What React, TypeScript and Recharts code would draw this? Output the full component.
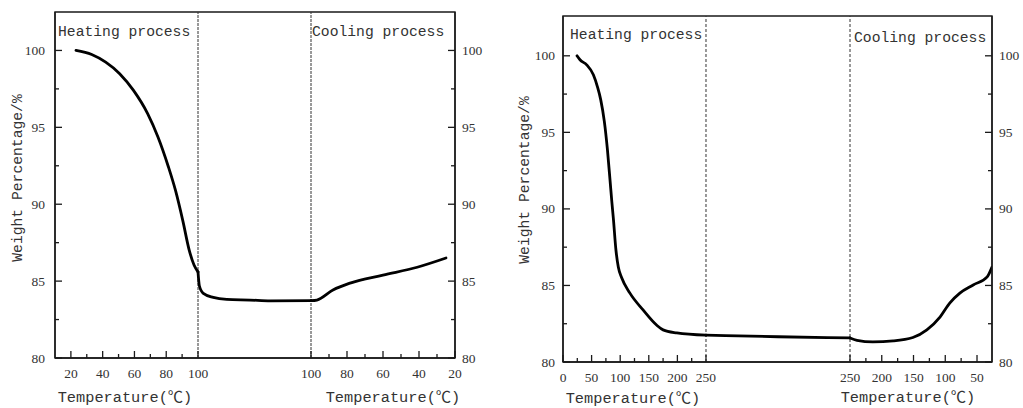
import { LineChart, Line, XAxis, YAxis, ReferenceLine, ReferenceArea } from 'recharts'

// left panel: heating to 100 ℃, hold, cooling back down
const leftHeatTemp = [23.2, 33.1, 41.9, 50.7, 59.4, 68.3, 74.8, 81.4, 85.8, 90.5, 94.5, 97.5, 100]
const leftHeatWeight = [100, 99.74, 99.24, 98.49, 97.4, 95.89, 94.37, 92.42, 90.91, 88.9, 87.0, 86.05, 85.6]
const leftHoldStep = [0, 1.2, 4.7, 13.5, 25.4, 46, 64, 100]
const leftHoldWeight = [85.6, 84.7, 84.2, 83.94, 83.81, 83.77, 83.72, 83.73]
const leftCoolTemp = [100, 96.7, 87.8, 78.3, 60, 41, 25]
const leftCoolWeight = [83.73, 83.77, 84.42, 84.87, 85.39, 85.9, 86.5]

// right panel: heating to 250 ℃
const rightHeatTemp = [24.5, 29.7, 41.4, 53.1, 60.1, 66, 72.3, 77.6, 82.3, 85.3, 88, 92.6, 96.7, 102.6, 117, 140, 164, 175, 199, 250]
const rightHeatWeight = [100, 99.74, 99.41, 98.76, 97.99, 97.12, 95.7, 93.9, 91.85, 90.5, 89.4, 87.3, 86.2, 85.5, 84.5, 83.4, 82.4, 82.1, 81.9, 81.75]
const rightHoldStep = [0, 50, 100]
const rightHoldWeight = [81.75, 81.65, 81.57]
const rightCoolTemp = [250, 239, 214, 182, 151, 129, 108, 93, 77, 56, 34, 26.4]
const rightCoolWeight = [81.57, 81.42, 81.32, 81.38, 81.6, 82.1, 82.95, 83.85, 84.5, 85.03, 85.56, 86.2]

// tick labels
const leftHeatTicks = [20, 40, 60, 80, 100]
const leftHeatMinor = [30, 50, 70, 90]
const leftCoolTicks = [100, 80, 60, 40, 20]
const leftCoolMinor = [90, 70, 50, 30]
const rightHeatTicks = [0, 50, 100, 150, 200, 250]
const rightHeatMinor = [25, 75, 125, 175, 225]
const rightCoolTicks = [250, 200, 150, 100, 50]
const rightCoolMinor = [225, 175, 125, 75]
const yTicks = [80, 82.5, 85, 87.5, 90, 92.5, 95, 97.5, 100]

// broken x axis: heating part | isothermal hold | cooling part (reversed)
type AxisMap = { heat: number[]; cool: number[]; b1: number; b2: number }
const leftAxis: AxisMap = { heat: [10, 100], cool: [100, 20], b1: 0.3575, b2: 0.64 }
const rightAxis: AxisMap = { heat: [0, 250], cool: [250, 26.4], b1: 0.3333, b2: 0.669 }

const heatPos = (t: number, a: AxisMap) => ((t - a.heat[0]) / (a.heat[1] - a.heat[0])) * a.b1
const holdPos = (s: number, a: AxisMap) => a.b1 + (s / 100) * (a.b2 - a.b1)
const coolPos = (t: number, a: AxisMap) => a.b2 + ((a.cool[0] - t) / (a.cool[0] - a.cool[1])) * (1 - a.b2)

type TickDef = { pos: number; label: string | null }

function buildTicks(a: AxisMap, heat: number[], heatMinor: number[], cool: number[], coolMinor: number[]): TickDef[] {
  return [
    ...heat.map((t) => ({ pos: heatPos(t, a), label: String(t) })),
    ...heatMinor.map((t) => ({ pos: heatPos(t, a), label: null })),
    ...cool.map((t) => ({ pos: coolPos(t, a), label: String(t) })),
    ...coolMinor.map((t) => ({ pos: coolPos(t, a), label: null })),
  ].sort((p, q) => p.pos - q.pos)
}

const mono = '"Liberation Mono", "Noto Sans CJK SC", monospace'
const serif = '"Liberation Serif", serif'
const ink = '#1a1a1a'

type PanelProps = {
  x: number
  width: number
  top: number
  leftW: number
  rightW: number
  bottomH: number
  yMax: number
  axis: AxisMap
  heat: { pos: number; w: number }[]
  hold: { pos: number; w: number }[]
  cool: { pos: number; w: number }[]
  ticks: TickDef[]
  dash: string
  yLabel: number[]
  heatText: number[]
  coolText: number[]
  heatTitle: number[]
  coolTitle: number[]
  leftGap: number
}

function Panel(p: PanelProps) {
  const xTick = (props: any) => {
    const { x, y, payload } = props
    const d = p.ticks.find((t) => Math.abs(t.pos - payload.value) < 1e-6)
    if (!d) return null
    return (
      <g>
        <line x1={x} y1={y} x2={x} y2={y - (d.label ? 7 : 4)} stroke={ink} strokeWidth={1.3} />
        {d.label && (
          <text x={x} y={y + 20} textAnchor="middle" fontFamily={serif} fontSize={13.5} fill="#333">
            {d.label}
          </text>
        )}
      </g>
    )
  }
  const yTick = (side: 'l' | 'r') => (props: any) => {
    const { x, y, payload } = props
    const major = payload.value % 5 === 0
    const dir = side === 'l' ? 1 : -1
    return (
      <g>
        <line x1={x} y1={y} x2={x + dir * (major ? 7 : 4)} y2={y} stroke={ink} strokeWidth={1.3} />
        {major && (
          <text
            x={side === 'l' ? x - p.leftGap : x + 7}
            y={y}
            textAnchor={side === 'l' ? 'end' : 'start'}
            dominantBaseline="central"
            fontFamily={serif}
            fontSize={13.5}
            fill="#333"
          >
            {payload.value}
          </text>
        )}
      </g>
    )
  }
  const textStyle = { fontFamily: mono, fontSize: 14.7, fill: '#333' }
  const titleStyle = { fontFamily: mono, fontSize: 15.3, fill: '#333' }

  return (
    <div style={{ position: 'absolute', left: p.x, top: 0 }}>
      <LineChart width={p.width} height={408} margin={{ top: p.top, right: 0, bottom: 0, left: 0 }}>
        <XAxis
          dataKey="pos"
          type="number"
          domain={[0, 1]}
          ticks={p.ticks.map((t) => t.pos)}
          interval={0}
          height={p.bottomH}
          tickSize={0}
          tickMargin={0}
          tickLine={false}
          axisLine={{ stroke: ink, strokeWidth: 1.4 }}
          tick={xTick}
          allowDataOverflow
        />
        <YAxis
          yAxisId="l"
          type="number"
          domain={[80, p.yMax]}
          ticks={yTicks}
          interval={0}
          width={p.leftW}
          tickSize={0}
          tickMargin={0}
          tickLine={false}
          axisLine={{ stroke: ink, strokeWidth: 1.4 }}
          tick={yTick('l')}
          allowDataOverflow
        />
        <YAxis
          yAxisId="r"
          orientation="right"
          type="number"
          domain={[80, p.yMax]}
          ticks={yTicks}
          interval={0}
          width={p.rightW}
          tickSize={0}
          tickMargin={0}
          tickLine={false}
          axisLine={{ stroke: ink, strokeWidth: 1.4 }}
          tick={yTick('r')}
          allowDataOverflow
        />
        <ReferenceArea yAxisId="l" x1={0} x2={1} y1={80} y2={p.yMax} fill="none" stroke={ink} strokeWidth={1.4} />
        <ReferenceLine yAxisId="l" x={p.axis.b1} stroke="#333" strokeWidth={1} strokeDasharray={p.dash} />
        <ReferenceLine yAxisId="l" x={p.axis.b2} stroke="#333" strokeWidth={1} strokeDasharray={p.dash} />
        {[p.heat, p.hold, p.cool].map((seg, i) => (
          <Line
            key={i}
            yAxisId="l"
            data={seg}
            dataKey="w"
            type="monotone"
            stroke="#000"
            strokeWidth={2.8}
            strokeLinecap="round"
            strokeLinejoin="round"
            dot={false}
            activeDot={false}
            isAnimationActive={false}
          />
        ))}
        <text x={p.heatText[0]} y={p.heatText[1]} {...textStyle}>Heating process</text>
        <text x={p.coolText[0]} y={p.coolText[1]} {...textStyle}>Cooling process</text>
        <text x={p.heatTitle[0]} y={p.heatTitle[1]} textAnchor="middle" {...titleStyle}>Temperature(℃)</text>
        <text x={p.coolTitle[0]} y={p.coolTitle[1]} textAnchor="middle" {...titleStyle}>Temperature(℃)</text>
        <text
          x={p.yLabel[0]}
          y={p.yLabel[1]}
          textAnchor="middle"
          dominantBaseline="central"
          transform={`rotate(-90 ${p.yLabel[0]} ${p.yLabel[1]})`}
          {...textStyle}
        >
          Weight Percentage/%
        </text>
      </LineChart>
    </div>
  )
}

function series(temps: number[], weights: number[], map: (v: number) => number) {
  return temps.map((t, i) => ({ pos: map(t), w: weights[i] }))
}

export default function App() {
  const la = leftAxis
  const ra = rightAxis
  return (
    <div style={{ position: 'absolute', left: 0, top: 0, width: 1023, height: 408, background: '#fff' }}>
      <Panel
        x={0}
        width={500}
        top={12}
        leftW={55}
        rightW={45}
        bottomH={50}
        yMax={102.5}
        axis={la}
        heat={series(leftHeatTemp, leftHeatWeight, (t) => heatPos(t, la))}
        hold={series(leftHoldStep, leftHoldWeight, (s) => holdPos(s, la))}
        cool={series(leftCoolTemp, leftCoolWeight, (t) => coolPos(t, la))}
        ticks={buildTicks(la, leftHeatTicks, leftHeatMinor, leftCoolTicks, leftCoolMinor)}
        dash="3 1"
        yLabel={[18, 178]}
        heatText={[58, 36]}
        coolText={[312, 36]}
        heatTitle={[125, 402]}
        coolTitle={[393, 402]}
        leftGap={10}
      />
      <Panel
        x={508}
        width={515}
        top={16}
        leftW={55}
        rightW={31}
        bottomH={46}
        yMax={102.6}
        axis={ra}
        heat={series(rightHeatTemp, rightHeatWeight, (t) => heatPos(t, ra))}
        hold={series(rightHoldStep, rightHoldWeight, (s) => holdPos(s, ra))}
        cool={series(rightCoolTemp, rightCoolWeight, (t) => coolPos(t, ra))}
        ticks={buildTicks(ra, rightHeatTicks, rightHeatMinor, rightCoolTicks, rightCoolMinor)}
        dash="3 2"
        yLabel={[17, 180]}
        heatText={[62, 39]}
        coolText={[346, 42]}
        heatTitle={[125, 403]}
        coolTitle={[400, 402]}
        leftGap={8}
      />
    </div>
  )
}
